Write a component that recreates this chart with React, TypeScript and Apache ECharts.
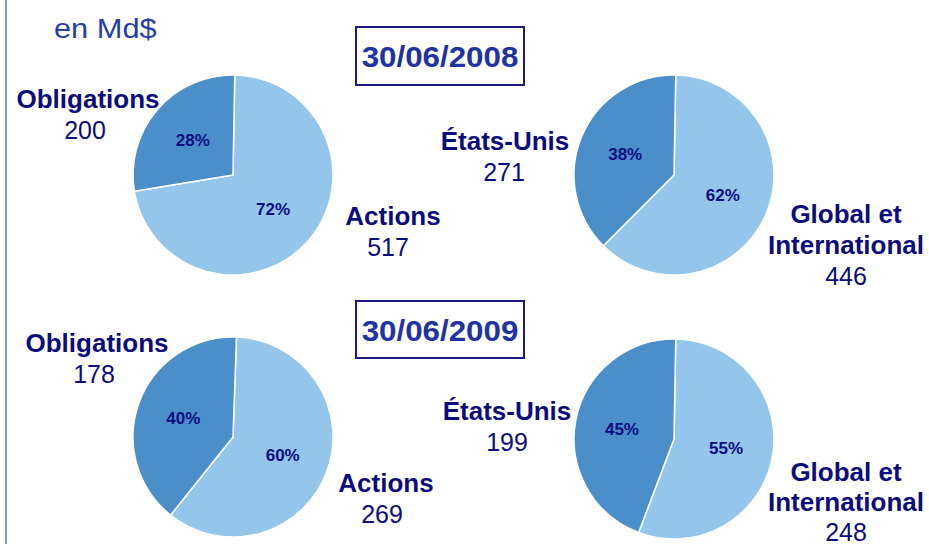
import React, { useEffect, useRef } from "react";
import * as echarts from "echarts";

const unitLabel = "en Md$";
const dates = ["30/06/2008", "30/06/2009"];
const assetCategories = ["Actions", "Obligations"];
const assetValues2008 = [517, 200];
const assetValues2009 = [269, 178];
const regionCategories = ["Global et International", "États-Unis"];
const regionValues2008 = [446, 271];
const regionValues2009 = [248, 199];

const FONT = '"Liberation Sans", Arial, Helvetica, sans-serif';
const NAVY = "#0c0c80";
const LIGHT = "#93c6ea";
const DARK = "#4a8fca";

export default function App() {
  const ref = useRef<HTMLDivElement>(null);

  useEffect(() => {
    if (!ref.current) return;
    const chart = echarts.init(ref.current, undefined, { renderer: "svg" });

    const makePie = (center: number[], names: string[], values: number[], startAngle: number) => ({
      type: "pie",
      center,
      radius: 100,
      startAngle,
      clockwise: true,
      silent: true,
      data: names.map((n, i) => ({
        name: n,
        value: values[i],
        itemStyle: { color: i === 0 ? LIGHT : DARK },
      })),
      label: {
        show: true,
        position: "inside",
        formatter: (p: any) => Math.round(p.percent) + "%",
        color: NAVY,
        fontWeight: "bold",
        fontSize: 17,
        fontFamily: FONT,
      },
      labelLine: { show: false },
      itemStyle: { borderColor: "#ffffff", borderWidth: 1.5 },
      emphasis: { disabled: true },
    });

    const txt = (text: string, x: number, y: number, bold: boolean, size: number) => ({
      type: "text",
      x,
      y,
      silent: true,
      style: {
        text,
        fill: NAVY,
        font: `${bold ? "bold " : ""}${size}px ${FONT}`,
        align: "center",
        verticalAlign: "middle",
        textAlign: "center",
        textVerticalAlign: "middle",
      },
    });

    const nameLines = (s: string) => s.replace(" et ", " et\n").split("\n");

    const labelBlock = (name: string, value: number, x: number, y: number, vx: number, gap = 31) => {
      const lines = nameLines(name);
      const els: any[] = lines.map((l, i) => txt(l, x, y + i * gap, true, 26));
      els.push(txt(String(value), vx, y + lines.length * gap, false, 25));
      return els;
    };

    const dateBox = (label: string, y: number, h: number) => [
      {
        type: "rect",
        silent: true,
        shape: { x: 356, y, width: 168, height: h },
        style: { fill: "#ffffff", stroke: "#1a1a80", lineWidth: 2 },
      },
      {
        type: "text",
        x: 440,
        y: y + h / 2 + 1,
        scaleX: 1.08,
        silent: true,
        style: {
          text: label,
          fill: "#1f33a3",
          font: `bold 29px ${FONT}`,
          align: "center",
          verticalAlign: "middle",
          textAlign: "center",
          textVerticalAlign: "middle",
        },
      },
    ];

    const graphics: any[] = [
      {
        type: "line",
        silent: true,
        shape: { x1: 6, y1: 0, x2: 6, y2: 544 },
        style: { stroke: "#6aa3d8", lineWidth: 2 },
      },
      {
        type: "text",
        x: 54,
        y: 28,
        scaleX: 1.1,
        silent: true,
        style: {
          text: unitLabel,
          fill: "#2340a8",
          font: `28px ${FONT}`,
          align: "left",
          verticalAlign: "middle",
          textAlign: "left",
          textVerticalAlign: "middle",
        },
      },
      ...dateBox(dates[0], 27, 58),
      ...dateBox(dates[1], 301, 57),
      // 2008 assets
      ...labelBlock(assetCategories[1], assetValues2008[1], 88, 99, 85),
      ...labelBlock(assetCategories[0], assetValues2008[0], 393, 216, 388),
      // 2008 regions
      ...labelBlock(regionCategories[1], regionValues2008[1], 505, 141, 504),
      ...labelBlock(regionCategories[0], regionValues2008[0], 846, 214, 846),
      // 2009 assets
      ...labelBlock(assetCategories[1], assetValues2009[1], 97, 343, 94),
      ...labelBlock(assetCategories[0], assetValues2009[0], 386, 483, 382),
      // 2009 regions
      ...labelBlock(regionCategories[1], regionValues2009[1], 507, 411, 507),
      ...labelBlock(regionCategories[0], regionValues2009[0], 846, 472, 846, 30),
    ];

    chart.setOption({
      animation: false,
      backgroundColor: "#ffffff",
      series: [
        makePie([233, 175], assetCategories, assetValues2008, 89),
        makePie([674, 175], regionCategories, regionValues2008, 89),
        makePie([233, 437], assetCategories, assetValues2009, 88),
        makePie([674, 439], regionCategories, regionValues2009, 89),
      ],
      graphic: graphics,
    });

    return () => chart.dispose();
  }, []);

  return (
    <div
      ref={ref}
      style={{ position: "fixed", left: 0, top: 0, width: 929, height: 544, background: "#fff" }}
    />
  );
}
